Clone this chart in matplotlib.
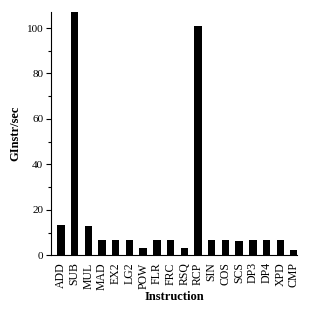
import matplotlib
matplotlib.use('Agg')
import matplotlib.pyplot as plt
from matplotlib.ticker import MultipleLocator

plt.rcParams['font.family'] = 'Liberation Serif'

instructions = ['ADD', 'SUB', 'MUL', 'MAD', 'EX2', 'LG2', 'POW', 'FLR', 'FRC', 'RSQ',
                'RCP', 'SIN', 'COS', 'SCS', 'DP3', 'DP4', 'XPD', 'CMP']
ginstr = [13.2, 110.0, 12.8, 6.7, 6.7, 6.7, 3.4, 6.7, 6.7, 3.4,
          100.8, 6.7, 6.7, 6.4, 6.7, 6.7, 6.7, 2.3]

fig = plt.figure(figsize=(3.2, 3.11), dpi=100)
ax = fig.add_axes([0.159, 0.179, 0.769, 0.782])

x = range(len(instructions))
ax.bar(x, ginstr, width=0.54, color='black')

ax.set_xlim(-0.73, len(instructions) - 0.78)
ax.set_ylim(0, 107)
ax.set_xticks(list(x))
ax.set_xticklabels(instructions, rotation=90, fontsize=8.5)
ax.tick_params(axis='x', length=0, pad=5)
ax.yaxis.set_major_locator(MultipleLocator(20))
ax.yaxis.set_minor_locator(MultipleLocator(10))
ax.tick_params(axis='y', labelsize=8, length=3.5, width=0.8, pad=2)
ax.tick_params(axis='y', which='minor', length=2, width=0.8)

ax.spines['top'].set_visible(False)
ax.spines['right'].set_visible(False)

ax.set_ylabel('GInstr/sec', fontweight='bold', fontsize=9, labelpad=4)
ax.set_xlabel('Instruction', fontweight='bold', fontsize=9, labelpad=1)

fig.savefig('out.png', dpi=100)
